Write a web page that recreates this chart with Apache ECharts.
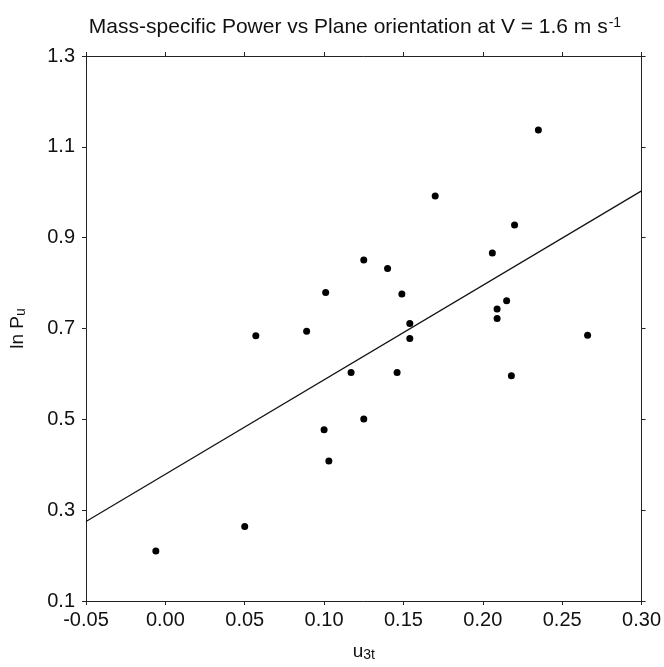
<!DOCTYPE html>
<html>
  <head>
    <meta charset="utf-8" />
    <title>ECharts</title>
    <script src="https://cdn.jsdelivr.net/npm/echarts@6/dist/echarts.min.js"></script>
    <style>
      html, body { margin: 0; padding: 0; background: #fff; }
    </style>
  </head>
  <body>
    <div id="main" style="width: 664px;height:667px;"></div>
    <script type="text/javascript">
      // u3t values (x) and ln Pu values (y)
      var u3t = [-0.006, 0.050, 0.057, 0.089, 0.100, 0.101, 0.103, 0.117, 0.125, 0.125,
                 0.140, 0.146, 0.149, 0.154, 0.154, 0.170, 0.206, 0.209, 0.209, 0.215,
                 0.218, 0.220, 0.235, 0.266];
      var lnPu = [0.210, 0.264, 0.684, 0.694, 0.477, 0.779, 0.408, 0.603, 0.851, 0.501,
                  0.832, 0.603, 0.776, 0.711, 0.678, 0.992, 0.866, 0.743, 0.722, 0.761,
                  0.596, 0.928, 1.137, 0.685];
      // regression line end points
      var fitX = [-0.05, 0.30];
      var fitY = [0.275, 1.003];
      var xTicks = [-0.05, 0.00, 0.05, 0.10, 0.15, 0.20, 0.25, 0.30];
      var yTicks = [0.1, 0.3, 0.5, 0.7, 0.9, 1.1, 1.3];

      var font = 'Liberation Sans';
      var pts = u3t.map(function (x, i) { return [x, lnPu[i]]; });
      var fit = fitX.map(function (x, i) { return [x, fitY[i]]; });

      var axisBase = {
        type: 'value',
        axisLine: { show: true, onZero: false, lineStyle: { color: '#222', width: 1 } },
        splitLine: { show: false }
      };
      var tick = function (vals) {
        return { show: true, inside: false, length: 4, lineStyle: { color: '#222' }, customValues: vals };
      };

      var myChart = echarts.init(document.getElementById('main'));
      myChart.setOption({
        animation: false,
        backgroundColor: '#fff',
        title: {
          text: 'Mass-specific Power vs Plane orientation at V = 1.6 m s{sup|-1}',
          left: 350,
          top: 11,
          textAlign: 'center',
          textStyle: {
            fontFamily: font,
            fontSize: 21,
            fontWeight: 'normal',
            color: '#111',
            rich: {
              sup: { fontFamily: font, fontSize: 14, verticalAlign: 'top', padding: [0, 0, 9, 1], color: '#111' }
            }
          }
        },
        grid: { left: 86, right: 22, top: 56, bottom: 61 },
        xAxis: [
          Object.assign({}, axisBase, {
            min: -0.05, max: 0.30, interval: 0.05,
            name: 'u{sub|3t}',
            nameLocation: 'middle',
            nameGap: 40,
            nameTextStyle: {
              fontFamily: font, fontSize: 19, color: '#111',
              rich: { sub: { fontFamily: font, fontSize: 14, verticalAlign: 'bottom', padding: [7, 0, 0, 0], color: '#111' } }
            },
            axisTick: tick(xTicks),
            axisLabel: {
              fontFamily: font, fontSize: 20, color: '#111', margin: 9,
              customValues: xTicks,
              formatter: function (v) { return v.toFixed(2); }
            }
          }),
          Object.assign({}, axisBase, {
            position: 'top',
            min: -0.05, max: 0.30, interval: 0.05,
            axisTick: tick(xTicks),
            axisLabel: { show: false }
          })
        ],
        yAxis: [
          Object.assign({}, axisBase, {
            min: 0.1, max: 1.3,
            name: 'ln P{sub|u}',
            nameLocation: 'middle',
            nameGap: 58,
            nameTextStyle: {
              fontFamily: font, fontSize: 19, color: '#111',
              rich: { sub: { fontFamily: font, fontSize: 14, verticalAlign: 'bottom', padding: [7, 0, 0, 0], color: '#111' } }
            },
            axisTick: tick(yTicks),
            axisLabel: {
              fontFamily: font, fontSize: 20, color: '#111', margin: 11,
              customValues: yTicks,
              formatter: function (v) { return v.toFixed(1); }
            }
          }),
          Object.assign({}, axisBase, {
            position: 'right',
            min: 0.1, max: 1.3,
            axisTick: tick(yTicks),
            axisLabel: { show: false }
          })
        ],
        series: [
          {
            name: 'fit',
            type: 'line',
            data: fit,
            symbol: 'none',
            lineStyle: { color: '#111', width: 1.2 },
            z: 2
          },
          {
            name: 'data',
            type: 'scatter',
            data: pts,
            symbol: 'circle',
            symbolSize: 7,
            itemStyle: { color: '#000', opacity: 1 },
            z: 3
          }
        ]
      });
    </script>
  </body>
</html>
